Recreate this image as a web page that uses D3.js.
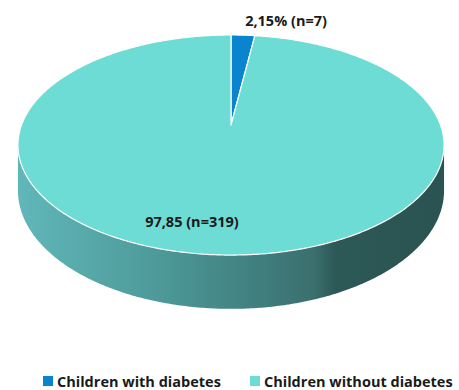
<!DOCTYPE html>
<html>
<head>
<meta charset="utf-8">
<script src="https://cdn.jsdelivr.net/npm/d3@7/dist/d3.min.js"></script>
<style>
  body { margin: 0; background: #fff; }
  svg { display: block; font-family: "Open Sans", "Liberation Sans", sans-serif; }
</style>
</head>
<body>
<svg></svg>
<script>
var categories = ["Children with diabetes", "Children without diabetes"];
var counts = [7, 319];
var labels = ["2,15% (n=7)", "97,85 (n=319)"];
var colors = ["#0a84cf", "#6ddcd5"];

var width = 459;
var height = 390;

var svg = d3.select("svg").attr("width", width).attr("height", height);

// perspective tilt of the pie
var cx = 231, cy = 125;
var k = 0.182;      // how much closer the front edge is
var depth = 44;     // side height

var xScale = d3.scaleLinear().domain([-1, 1]).range([cx - 209.5, cx + 209.5]);
var yScale = d3.scaleLinear().domain([-1, 1]).range([cy - 106.4, cy + 106.4]);

// angle measured clockwise from 12 o'clock
var proj = (a, r, z) => {
  var X = r * Math.sin(a);
  var Y = r * Math.cos(a);
  var w = 1 + k * Y;
  return [xScale(X / w), yScale(-Y / w) + (z || 0) * depth / w];
};

var pie = d3.pie().sort(null).value((d) => d).startAngle(0).endAngle(2 * Math.PI);
var arcs = pie(counts);

var line = d3.line();

var arcPoints = (a0, a1, r, z) => {
  var n = Math.max(2, Math.ceil((a1 - a0) / 0.01));
  return d3.range(n + 1).map((i) => proj(a0 + (a1 - a0) * i / n, r, z));
};

// side gradient
var defs = svg.append("defs");
var grad = defs.append("linearGradient")
  .attr("id", "side")
  .attr("gradientUnits", "userSpaceOnUse")
  .attr("x1", xScale(-1)).attr("x2", xScale(1))
  .attr("y1", 0).attr("y2", 0);
[[0, "#60b6b8"], [0.3, "#4f9c9c"], [0.55, "#418080"], [0.7, "#3a6f6d"], [0.75, "#2c5856"], [1, "#2a5452"]]
  .forEach((s) => grad.append("stop").attr("offset", s[0]).attr("stop-color", s[1]));

// front side (silhouette where cos = -k)
var s0 = Math.acos(-k), s1 = 2 * Math.PI - Math.acos(-k);
var sidePts = arcPoints(s0, s1, 1, 0).concat(arcPoints(s0, s1, 1, 1).reverse());
svg.append("path")
  .attr("d", line(sidePts) + "Z")
  .attr("fill", "url(#side)");

// top face
svg.selectAll("path.slice")
  .data(arcs)
  .enter()
  .append("path")
  .attr("class", "slice")
  .attr("d", (d) => line([proj(0, 0)].concat(arcPoints(d.startAngle, d.endAngle, 1, 0))) + "Z")
  .attr("fill", (d, i) => colors[i])
  .attr("stroke", "#ffffff")
  .attr("stroke-width", 1.2)
  .attr("stroke-linejoin", "round");

// labels
var labelPos = [
  { r: 1.12, dx: 1, dy: 0, anchor: "start" },
  { r: 0.74, dx: -27, dy: 11, anchor: "middle" }
];
svg.selectAll("text.lbl")
  .data(arcs)
  .enter()
  .append("text")
  .attr("class", "lbl")
  .attr("x", (d, i) => proj((d.startAngle + d.endAngle) / 2, labelPos[i].r)[0] + labelPos[i].dx)
  .attr("y", (d, i) => proj((d.startAngle + d.endAngle) / 2, labelPos[i].r)[1] + labelPos[i].dy)
  .attr("text-anchor", (d, i) => labelPos[i].anchor)
  .attr("font-size", 14.5)
  .attr("font-weight", "bold")
  .attr("fill", "#1a1a1a")
  .text((d, i) => labels[i]);

// legend
var legendX = d3.scalePoint().domain(categories).range([43, 250]);
var legend = svg.selectAll("g.legend")
  .data(categories)
  .enter()
  .append("g")
  .attr("class", "legend")
  .attr("transform", (d) => "translate(" + legendX(d) + ",376)");
legend.append("rect")
  .attr("width", 10).attr("height", 10)
  .attr("fill", (d, i) => colors[i]);
legend.append("text")
  .attr("x", 14).attr("y", 10.5)
  .attr("font-size", 14.5)
  .attr("font-weight", "bold")
  .attr("fill", "#1a1a1a")
  .text((d) => d);
</script>
</body>
</html>
